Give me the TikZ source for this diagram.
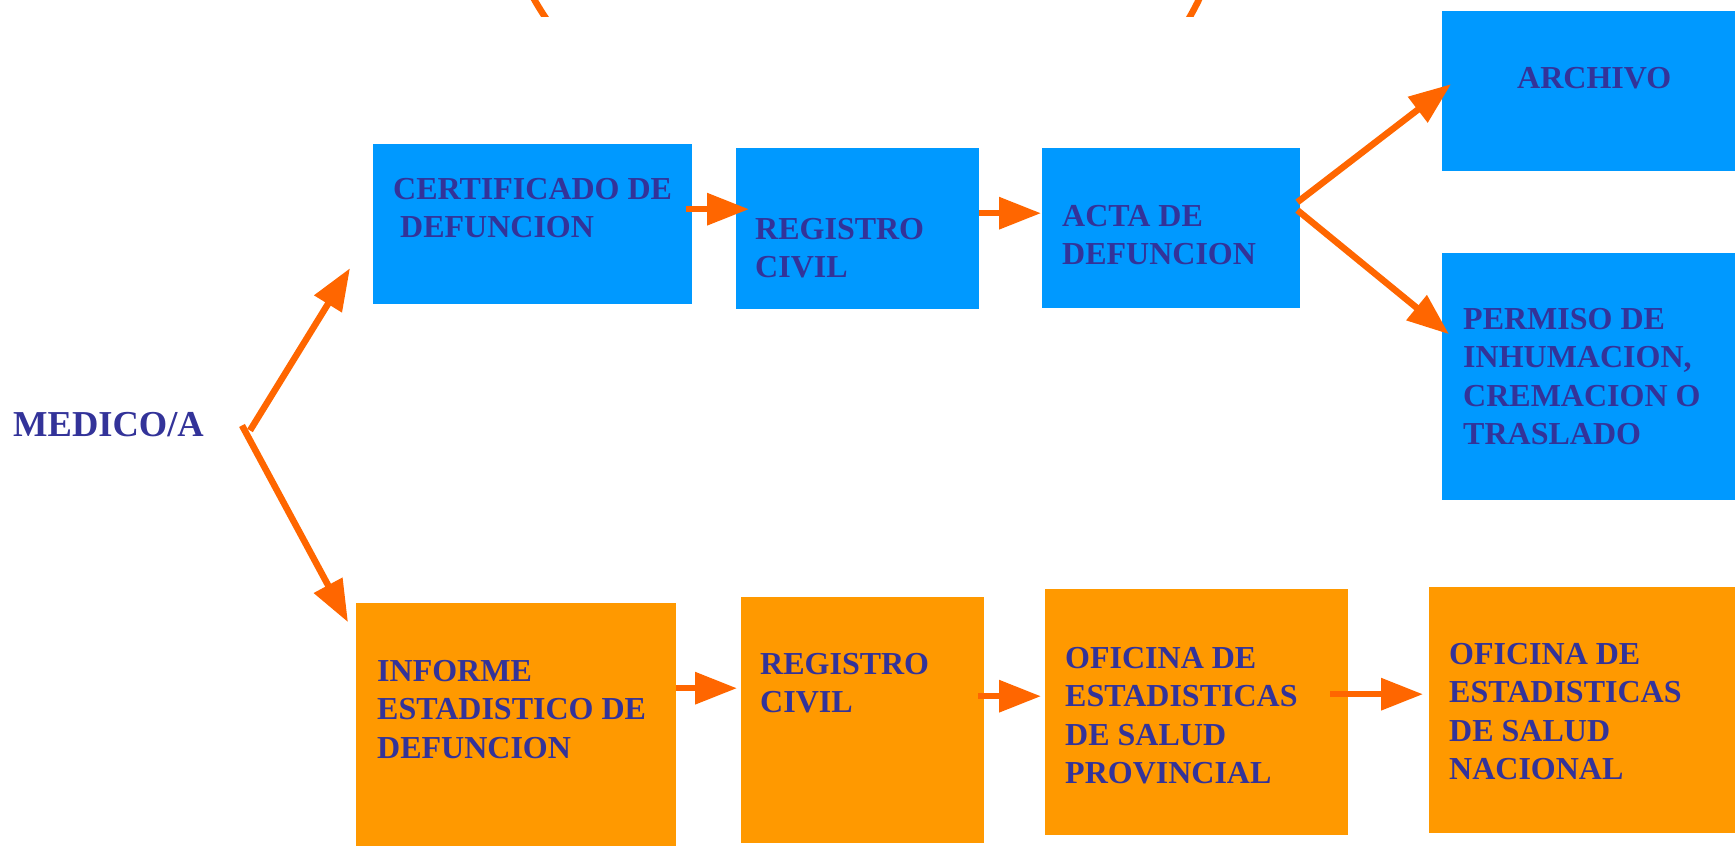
\documentclass[tikz,border=0pt]{standalone}
\usepackage{fontspec}
\setmainfont{Liberation Serif}
\usepackage{tikz}
\usetikzlibrary{arrows.meta,positioning}

\definecolor{boxblue}{HTML}{0099FF}
\definecolor{boxorange}{HTML}{FF9900}
\definecolor{arrorange}{HTML}{FF6600}
\definecolor{txtblue}{HTML}{333399}

\tikzset{
  >={Triangle[length=42pt,width=31pt]},
  bluebox/.style={fill=boxblue, anchor=north west, inner sep=0pt},
  orangebox/.style={fill=boxorange, anchor=north west, inner sep=0pt},
  boxtext/.style={text=txtblue, font=\bfseries\fontsize{32}{38.5}\selectfont, align=left, inner sep=0pt},
  flow/.style={->, line width=6.5pt, draw=arrorange},
}

\begin{document}
\begin{tikzpicture}[x=1pt,y=-1pt]

                \useasboundingbox (0,0) rectangle (1735,846);

                % Ends of the curved strokes at the top edge
                \begin{scope}
                \clip (0,-5) rectangle (1735,16.5);
                \draw[line width=6.5pt, arrorange] (526,-16) .. controls (533,-2) and (539,8) .. (547,20);
                \draw[line width=6.5pt, arrorange] (1206,-16) .. controls (1200,-2) and (1195,8) .. (1188,20);
                \end{scope}

                % Upper row (blue)
                \node[bluebox, minimum width=319pt, minimum height=160pt] (cert) at (373,144) {};
                \node[bluebox, minimum width=243pt, minimum height=161pt] (regA) at (736,148) {};
                \node[bluebox, minimum width=258pt, minimum height=160pt] (acta) at (1042,148) {};
                \node[bluebox, minimum width=298pt, minimum height=160pt] (archivo) at (1442,11) {};
                \node[bluebox, minimum width=298pt, minimum height=247pt] (permiso) at (1442,253) {};

                % Lower row (orange)
                \node[orangebox, minimum width=320pt, minimum height=247pt] (informe) at (356,603) {};
                \node[orangebox, minimum width=243pt, minimum height=246pt] (regB) at (741,597) {};
                \node[orangebox, minimum width=303pt, minimum height=246pt] (prov) at (1045,589) {};
                \node[orangebox, minimum width=311pt, minimum height=246pt] (nac) at (1429,587) {};

                % Texts
                \node[boxtext, font=\bfseries\fontsize{36.5}{44}\selectfont, anchor=north west] (medico) at (13,412) {MEDICO/A};
                \node[boxtext, below right=34pt and 20pt of cert.north west] (certT) {CERTIFICADO DE\\\hspace*{7pt}DEFUNCION};
                \node[boxtext, below right=70pt and 19pt of regA.north west] (regAT) {REGISTRO\\CIVIL};
                \node[boxtext, below right=57pt and 20pt of acta.north west] (actaT) {ACTA DE\\DEFUNCION};
                \node[boxtext, below right=56pt and 75pt of archivo.north west] (archivoT) {ARCHIVO};
                \node[boxtext, below right=55pt and 21pt of permiso.north west] (permisoT) {PERMISO DE\\INHUMACION,\\CREMACION O\\TRASLADO};
                \node[boxtext, below right=57pt and 21pt of informe.north west] (informeT) {INFORME\\ESTADISTICO DE\\DEFUNCION};
                \node[boxtext, below right=56pt and 19pt of regB.north west] (regBT) {REGISTRO\\CIVIL};
                \node[boxtext, below right=58pt and 20pt of prov.north west] (provT) {OFICINA DE\\ESTADISTICAS\\DE SALUD\\PROVINCIAL};
                \node[boxtext, below right=56pt and 20pt of nac.north west] (nacT) {OFICINA DE\\ESTADISTICAS\\DE SALUD\\NACIONAL};

                % Arrows
                \draw[flow] ([xshift=46pt,yshift=-6pt]medico.east) -- ([xshift=-23pt,yshift=-44pt]cert.west);
                \draw[flow] ([xshift=38pt,yshift=-1pt]medico.east) -- ([xshift=-8pt,yshift=104.5pt]informe.west);
                \draw[flow] ([xshift=-6pt,yshift=15pt]cert.east) -- ([xshift=13pt,yshift=19.5pt]regA.west);
                \draw[flow] ([yshift=15.5pt]regA.east) -- ([xshift=-1pt,yshift=15pt]acta.west);
                \draw[flow] ([xshift=-3pt,yshift=26pt]acta.east) -- ([xshift=9pt,yshift=7pt]archivo.west);
                \draw[flow] ([xshift=-3pt,yshift=18pt]acta.east) -- ([xshift=7pt,yshift=42.5pt]permiso.west);
                \draw[flow] ([yshift=38.5pt]informe.east) -- ([xshift=-4pt,yshift=32pt]regB.west);
                \draw[flow] ([xshift=-6pt,yshift=24pt]regB.east) -- ([xshift=-4pt,yshift=16pt]prov.west);
                \draw[flow] ([xshift=-18pt,yshift=18pt]prov.east) -- ([xshift=-6pt,yshift=16pt]nac.west);

\end{tikzpicture}
\end{document}
